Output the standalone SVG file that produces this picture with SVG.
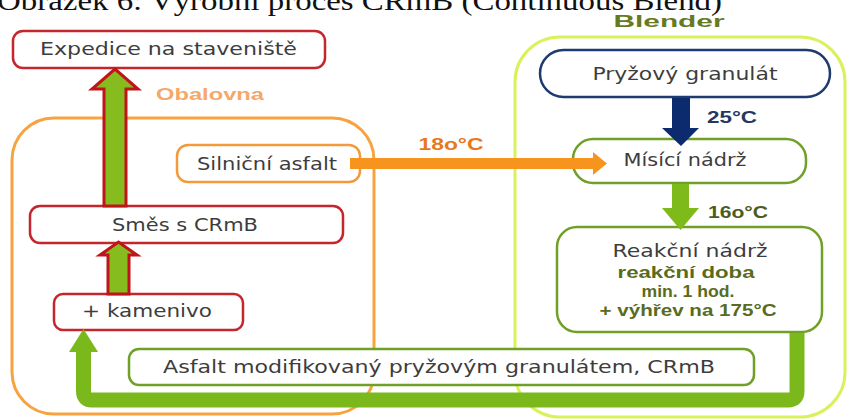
<svg xmlns="http://www.w3.org/2000/svg" width="850" height="419" viewBox="0 0 850 419">
<style>
.t{font-family:"DejaVu Sans","Liberation Sans",sans-serif;font-size:17px;fill:#3d3d3d;text-anchor:middle}
.b{font-family:"Liberation Sans","DejaVu Sans",sans-serif;font-weight:bold;font-size:17px;text-anchor:middle}
.red{fill:#fff;stroke:#c4262e;stroke-width:2.5}
.org{fill:#fff;stroke:#f39a3c;stroke-width:2.5}
.grn{fill:#fff;stroke:#70a028;stroke-width:2.5}
.nav{fill:#fff;stroke:#1f3a6e;stroke-width:2.5}
.title{font-family:"Liberation Serif",serif;font-size:28px;fill:#111}
</style>
<rect width="850" height="419" fill="#fff"/>
<text class="title" x="-3" y="10" textLength="725" lengthAdjust="spacingAndGlyphs">Obrázek 6: Výrobní proces CRmB (Continuous Blend)</text>
<g id="containers">
<g id="obalovna">
<rect x="12" y="118" width="362" height="296" rx="42" fill="none" stroke="#f7a440" stroke-width="3"/>
<text class="b" x="210" y="100" fill="#f5a86a" textLength="108" lengthAdjust="spacingAndGlyphs">Obalovna</text>
</g>
<g id="blender">
<rect x="515" y="37" width="330" height="380" rx="45" fill="none" stroke="#d8f25c" stroke-width="3"/>
<text class="b" x="669" y="27" fill="#667a22" textLength="111" lengthAdjust="spacingAndGlyphs">Blender</text>
</g>
</g>
<g id="expedice">
<rect class="red" x="13" y="31" width="312" height="37" rx="10"/>
<text class="t" x="168.5" y="55" textLength="257" lengthAdjust="spacingAndGlyphs">Expedice na staveniště</text>
</g>
<g id="silnicni">
<rect class="org" x="177" y="145" width="183" height="37" rx="11"/>
<text class="t" x="267" y="170" textLength="140" lengthAdjust="spacingAndGlyphs">Silniční asfalt</text>
</g>
<g id="smes">
<rect class="red" x="30" y="206" width="313" height="37" rx="10"/>
<text class="t" x="185" y="231" textLength="146" lengthAdjust="spacingAndGlyphs">Směs s CRmB</text>
</g>
<g id="kamenivo">
<rect class="red" x="54" y="294" width="189" height="36" rx="9"/>
<text class="t" x="147" y="317" textLength="130" lengthAdjust="spacingAndGlyphs">+ kamenivo</text>
</g>
<g id="asfalt-crmb">
<rect class="grn" x="129" y="349" width="625" height="36" rx="10"/>
<text class="t" x="439" y="373" textLength="552" lengthAdjust="spacingAndGlyphs">Asfalt modifikovaný pryžovým granulátem, CRmB</text>
</g>
<g id="pryzovy">
<rect class="nav" x="540" y="50" width="290" height="47" rx="23.5"/>
<text class="t" x="685" y="80" textLength="185" lengthAdjust="spacingAndGlyphs">Pryžový granulát</text>
</g>
<g id="misici">
<rect class="grn" x="573" y="139" width="233" height="44" rx="20"/>
<text class="t" x="685" y="166" textLength="123" lengthAdjust="spacingAndGlyphs">Mísící nádrž</text>
</g>
<g id="reakcni">
<rect class="grn" x="557" y="227" width="265" height="105" rx="20"/>
<text class="t" x="690" y="257" textLength="155" lengthAdjust="spacingAndGlyphs">Reakční nádrž</text>
<text class="b" x="686" y="278" fill="#5a6b1e" textLength="137" lengthAdjust="spacingAndGlyphs">reakční doba</text>
<text class="b" x="688" y="297" fill="#5a6b1e" textLength="93" lengthAdjust="spacingAndGlyphs">min. 1 hod.</text>
<text class="b" x="688" y="316" fill="#5a6b1e" textLength="177" lengthAdjust="spacingAndGlyphs">+ výhřev na 175°C</text>
</g>
<g id="connectors">
<path d="M104,206 V89 H92 L115,69 L138,89 H126 V206 Z" fill="#86bc1d" stroke="#c0141c" stroke-width="3" stroke-linejoin="miter"/>
<path d="M108,294 V255 H100 L118.5,242 L137,255 H129 V294 Z" fill="#86bc1d" stroke="#c0141c" stroke-width="3"/>
<path d="M350,158 H593 V152 L607,163.5 L593,175 V169 H350 Z" fill="#f7941d"/>
<text class="b" x="451" y="150" fill="#e8781e" font-size="18" textLength="65" lengthAdjust="spacingAndGlyphs">18o°C</text>
<path d="M672,98 V128 H662 L681,146 L699,128 H690 V98 Z" fill="#0c2a6e"/>
<text class="b" x="732" y="123" fill="#253761" font-size="18" textLength="50" lengthAdjust="spacingAndGlyphs">25°C</text>
<path d="M672,184 V208 H662 L680.5,230 L699,208 H689 V184 Z" fill="#7fba1b"/>
<text class="b" x="738" y="218" fill="#4d5c1c" font-size="18" textLength="60" lengthAdjust="spacingAndGlyphs">16o°C</text>
<path d="M797,333 V391 Q797,400 788,400 H92 Q83.5,400 83.5,391 V350" fill="none" stroke="#7ab81b" stroke-width="15"/>
<path d="M69,352 H98 L83.5,329 Z" fill="#7ab81b"/>
</g>
</svg>
